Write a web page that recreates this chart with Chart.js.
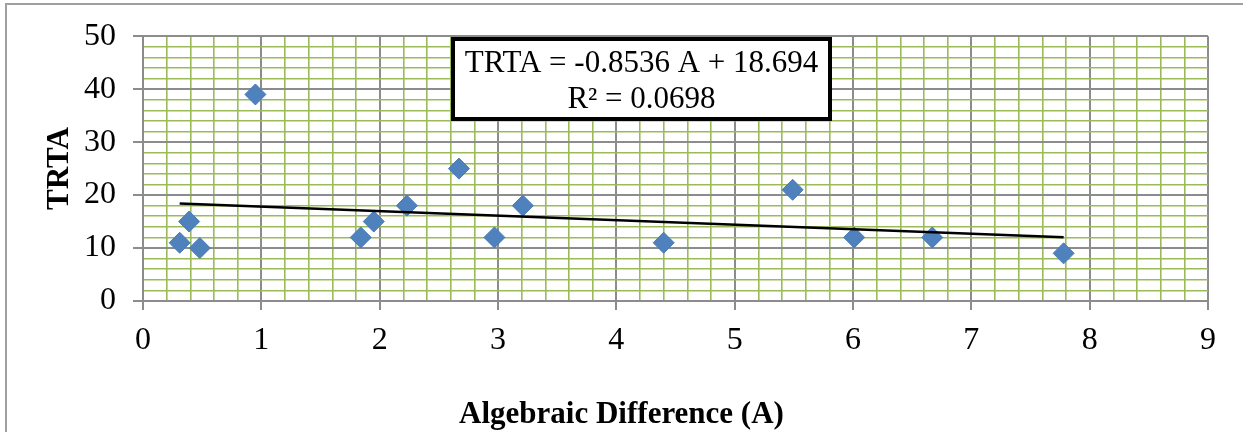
<!DOCTYPE html>
<html>
<head>
<meta charset="utf-8">
<script src="https://cdn.jsdelivr.net/npm/chart.js@4.4.0/dist/chart.umd.min.js"></script>
<style>
  html, body { margin: 0; padding: 0; background: #ffffff; }
  #wrap { width: 1243px; height: 432px; }
</style>
</head>
<body>
<div id="wrap"><canvas id="c" width="1243" height="432"></canvas></div>
<script>
// ---- data ----
const xValues = [0.31, 0.39, 0.48, 0.95, 1.84, 1.95, 2.23, 2.67, 2.97, 3.21, 4.40, 5.49, 6.01, 6.67, 7.78];
const trtaValues = [11, 15, 10, 39, 12, 15, 18, 25, 12, 18, 11, 21, 12, 12, 9];
const trendSlope = -0.8536;
const trendIntercept = 18.694;
const equationLines = ['TRTA = -0.8536 A + 18.694', 'R\u00B2 = 0.0698'];
const xAxisTitle = 'Algebraic Difference (A)';
const yAxisTitle = 'TRTA';
const xMin = 0, xMax = 9, xMajorStep = 1, xMinorStep = 0.2;
const yMin = 0, yMax = 50, yMajorStep = 10, yMinorStep = 2;

// ---- build ----
const points = xValues.map((x, i) => ({ x: x, y: trtaValues[i] }));
const tx0 = Math.min(...xValues), tx1 = Math.max(...xValues);
const trend = [tx0, tx1].map(x => ({ x: x, y: trendSlope * x + trendIntercept }));

const SERIF = "'Liberation Serif', 'Times New Roman', serif";
const GREY = '#8c8c8c';
const GREEN = '#9bbb59';
const isMult = (v, m) => Math.abs(v / m - Math.round(v / m)) < 1e-6;

const decorPlugin = {
  id: 'decor',
  beforeDraw(chart) {
    const ctx = chart.ctx;
    ctx.save();
    ctx.fillStyle = '#ffffff';
    ctx.fillRect(0, 0, chart.width, chart.height);
    ctx.strokeStyle = '#a0a0a0';
    ctx.lineWidth = 2;
    ctx.strokeRect(6, 4, chart.width + 20, chart.height + 20);
    ctx.restore();
  },
  afterDraw(chart) {
    const ctx = chart.ctx;
    ctx.save();
    // x axis title
    ctx.fillStyle = '#000000';
    ctx.font = 'bold 31px ' + SERIF;
    ctx.textAlign = 'center';
    ctx.textBaseline = 'alphabetic';
    ctx.fillText(xAxisTitle, chart.width / 2, 423);
    // equation box
    const bx = 453, by = 39, bw = 377, bh = 80;
    ctx.fillStyle = '#ffffff';
    ctx.fillRect(bx, by, bw, bh);
    ctx.strokeStyle = '#000000';
    ctx.lineWidth = 4;
    ctx.strokeRect(bx, by, bw, bh);
    ctx.fillStyle = '#000000';
    ctx.font = '31px ' + SERIF;
    ctx.fillText(equationLines[0], bx + bw / 2, 72);
    ctx.fillText(equationLines[1], bx + bw / 2, 108);
    ctx.restore();
  }
};

new Chart(document.getElementById('c'), {
  type: 'scatter',
  data: {
    datasets: [
      {
        label: 'TRTA',
        data: points,
        pointStyle: 'rectRot',
        pointRadius: 10.5,
        pointHoverRadius: 10.5,
        backgroundColor: '#4f81bd',
        borderColor: '#4a7ab5',
        borderWidth: 1,
        order: 2
      },
      {
        label: 'Linear trend',
        type: 'line',
        data: trend,
        showLine: true,
        borderColor: '#000000',
        borderWidth: 2.5,
        pointRadius: 0,
        fill: false,
        order: 1
      }
    ]
  },
  options: {
    responsive: false,
    animation: false,
    layout: { padding: { left: 0, right: 35, top: 35, bottom: 0 } },
    plugins: { legend: { display: false }, tooltip: { enabled: false } },
    scales: {
      x: {
        type: 'linear',
        min: xMin, max: xMax,
        afterFit(s) { s.height = 131; },
        border: { display: true, color: GREY, width: 2 },
        grid: {
          color: c => isMult(c.tick.value, xMajorStep) ? GREY : GREEN,
          lineWidth: c => isMult(c.tick.value, xMajorStep) ? 2 : 1.6,
          tickColor: c => isMult(c.tick.value, xMajorStep) ? GREY : 'rgba(0,0,0,0)',
          tickLength: 9,
          drawTicks: true
        },
        ticks: {
          stepSize: xMinorStep,
          autoSkip: false,
          maxRotation: 0,
          padding: 11,
          color: '#000000',
          font: { family: SERIF, size: 32 },
          callback: v => isMult(v, xMajorStep) ? String(Math.round(v)) : ''
        },
        title: { display: false }
      },
      y: {
        type: 'linear',
        min: yMin, max: yMax,
        afterFit(s) { s.width = 143; },
        border: { display: true, color: GREY, width: 2 },
        grid: {
          color: c => isMult(c.tick.value, yMajorStep) ? GREY : GREEN,
          lineWidth: c => isMult(c.tick.value, yMajorStep) ? 2 : 1.6,
          tickColor: c => isMult(c.tick.value, yMajorStep) ? GREY : 'rgba(0,0,0,0)',
          tickLength: 10,
          drawTicks: true
        },
        ticks: {
          stepSize: yMinorStep,
          autoSkip: false,
          padding: 17,
          color: '#000000',
          font: { family: SERIF, size: 32 },
          callback: v => isMult(v, yMajorStep) ? String(Math.round(v)) : ''
        },
        title: {
          display: true,
          text: yAxisTitle,
          color: '#000000',
          font: { family: SERIF, size: 31, weight: 'bold' },
          padding: { top: 41, bottom: 0 }
        }
      }
    }
  },
  plugins: [decorPlugin]
});
</script>
</body>
</html>
